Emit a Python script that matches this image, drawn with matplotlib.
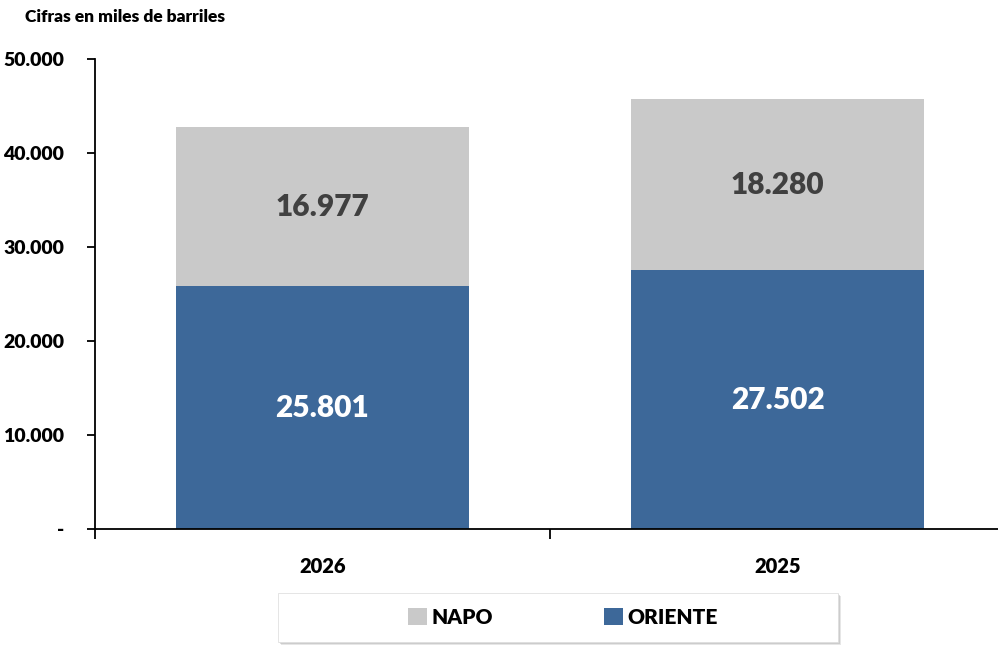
import matplotlib
matplotlib.use('Agg')
import numpy as np
from matplotlib import pyplot as plt, rcParams
from matplotlib.patches import Rectangle
from matplotlib.ticker import FuncFormatter

rcParams['font.family'] = ['Lato', 'DejaVu Sans']
rcParams['font.weight'] = 800

years = ['2026', '2025']
oriente = [25801, 27502]
napo = [16977, 18280]
series_names = ['NAPO', 'ORIENTE']
col_napo = '#C9C9C9'
col_oriente = '#3D6899'
BW = 800


def miles(v, pos):
    if v == 0:
        return '-'
    return '{:,.0f}'.format(v).replace(',', '.')


def chart():
    fig = plt.figure(figsize=(9.98, 6.45), dpi=100)
    ax = fig.add_axes([95 / 998., 116 / 645., 910 / 998., 470 / 645.])
    ind = np.arange(len(years))
    w = 0.643
    b1 = ax.bar(ind, oriente, w, color=col_oriente, label=series_names[1])
    b2 = ax.bar(ind, napo, w, bottom=oriente, color=col_napo, label=series_names[0])

    for i in ind:
        ax.text(i, oriente[i] / 2., miles(oriente[i], None), ha='center', va='center',
                color='white', fontsize=21.5, fontweight=BW)
        ax.text(i, oriente[i] + napo[i] / 2., miles(napo[i], None), ha='center', va='center',
                color='#404040', fontsize=21.5, fontweight=BW)

    ax.set_ylim(0, 50000)
    ax.set_xlim(-0.5, len(years) - 0.5)
    ax.set_yticks(np.arange(0, 50001, 10000))
    ax.yaxis.set_major_formatter(FuncFormatter(miles))
    ax.set_xticks(ind)
    ax.set_xticklabels(years)
    ax.set_xticks([-0.5, 0.5, 1.5], minor=True)
    ax.tick_params(axis='x', which='major', length=0, pad=20, labelsize=14.5)
    ax.tick_params(axis='x', which='minor', length=7, width=1.3, direction='out')
    ax.tick_params(axis='y', length=6, width=1.3, direction='out', pad=16, labelsize=14)
    for t in ax.get_yticklabels() + ax.get_xticklabels():
        t.set_fontweight(BW)
    ax.spines['top'].set_visible(False)
    ax.spines['right'].set_visible(False)
    ax.spines['left'].set_linewidth(1.3)
    ax.spines['bottom'].set_linewidth(1.3)

    fig.text(25 / 998., 1 - 17 / 645., 'Cifras en miles de barriles', fontsize=12.5,
             fontweight=BW, va='center', ha='left')

    # legend box with soft shadow
    x0, y0, bw, bh = 278 / 998., 1 - 642 / 645., 560 / 998., 49 / 645.
    for k, a in ((3, 0.25), (2, 0.35), (1, 0.45)):
        fig.patches.append(Rectangle((x0 + k / 998., y0 - k / 645.), bw, bh,
                                     transform=fig.transFigure, facecolor='#9E9E9E',
                                     edgecolor='none', alpha=a))
    fig.patches.append(Rectangle((x0, y0), bw, bh, transform=fig.transFigure,
                                 facecolor='white', edgecolor='#E0E0E0', lw=0.6))
    fig.legend([b2, b1], series_names, loc='center', ncol=2, frameon=False,
               bbox_to_anchor=(563 / 998., 1 - 617 / 645.),
               handlelength=0.9, handleheight=0.9, handletextpad=0.25,
               columnspacing=5.3, prop={'weight': BW, 'size': 15})
    plt.savefig('out.png', dpi=100)


if __name__ == '__main__':
    chart()
